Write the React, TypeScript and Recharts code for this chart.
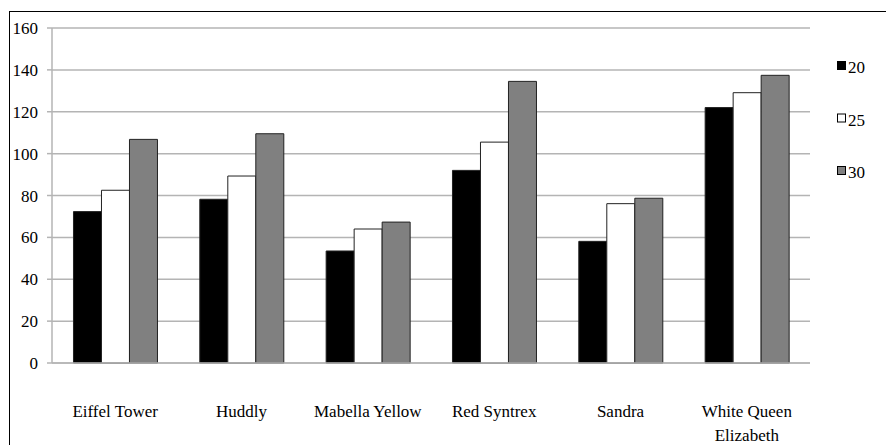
import { Bar, BarChart, CartesianGrid, XAxis, YAxis } from "recharts";

const categories = [
  "Eiffel Tower",
  "Huddly",
  "Mabella Yellow",
  "Red Syntrex",
  "Sandra",
  "White Queen Elizabeth",
];
const seriesNames = ["20", "25", "30"];
const values20 = [72.3, 78.2, 53.5, 92, 58.1, 122];
const values25 = [82.5, 89.3, 64, 105.5, 76.1, 129.1];
const values30 = [106.8, 109.5, 67.3, 134.5, 78.7, 137.4];
const yTicks = [0, 20, 40, 60, 80, 100, 120, 140, 160];

const seriesColors = ["#000000", "#ffffff", "#808080"];
const fontFamily = "'Liberation Serif', 'Times New Roman', serif";
const fontSize = 17;
const textStyle = { fontFamily, fontSize, fill: "#000" };

const data = categories.map((name, i) => ({
  name,
  s20: values20[i],
  s25: values25[i],
  s30: values30[i],
}));

let measureCtx: CanvasRenderingContext2D | null = null;
function textWidth(text: string) {
  if (!measureCtx) {
    measureCtx = document.createElement("canvas").getContext("2d");
  }
  if (!measureCtx) return text.length * fontSize * 0.5;
  measureCtx.font = `${fontSize}px ${fontFamily}`;
  return measureCtx.measureText(text).width;
}

function wrapLabel(label: string, maxWidth: number) {
  const words = label.split(" ");
  const lines: string[] = [];
  let current = "";
  for (const word of words) {
    const next = current ? `${current} ${word}` : word;
    if (current && textWidth(next) > maxWidth) {
      lines.push(current);
      current = word;
    } else {
      current = next;
    }
  }
  if (current) lines.push(current);
  return lines;
}

function CategoryTick(props: any) {
  const { x, y, payload } = props;
  const lines = wrapLabel(String(payload.value), 118);
  return (
    <text x={x} y={y + 45.5} textAnchor="middle" style={textStyle}>
      {lines.map((line, i) => (
        <tspan key={line} x={x} dy={i === 0 ? 0 : 24}>
          {line}
        </tspan>
      ))}
    </text>
  );
}

// legend drawn by hand so it doesn't eat plot width
function LegendBox() {
  return (
    <svg
      width={60}
      height={140}
      style={{ position: "absolute", left: 837, top: 61, overflow: "visible" }}
    >
      {seriesNames.map((name, i) => (
        <g key={name}>
          <rect
            x={0.5}
            y={0.5 + i * 52.5}
            width={8}
            height={8}
            fill={seriesColors[i]}
            stroke="#000"
            strokeWidth={1}
          />
          <text x={11} y={12 + i * 52.5} style={textStyle}>
            {name}
          </text>
        </g>
      ))}
    </svg>
  );
}

export default function App() {
  return (
    <div
      style={{
        position: "fixed",
        left: 0,
        top: 0,
        width: 886,
        height: 445,
        overflow: "hidden",
        background: "#fff",
        fontFamily,
      }}
    >
      <div
        style={{
          position: "absolute",
          left: 9,
          top: 11,
          width: 1000,
          height: 1000,
          border: "1px solid #000",
          boxSizing: "border-box",
        }}
      />
      <BarChart
        width={886}
        height={445}
        data={data}
        margin={{ top: 28, right: 76, left: 8, bottom: 0 }}
        barCategoryGap="17%"
        barGap={0}
        style={{ position: "absolute", left: 0, top: 0 }}
      >
        <CartesianGrid vertical={false} stroke="#b4b4b4" strokeWidth={1.5} />
        <XAxis
          dataKey="name"
          height={82}
          axisLine={{ stroke: "#b4b4b4", strokeWidth: 1.5 }}
          tickLine={false}
          interval={0}
          tick={<CategoryTick />}
        />
        <YAxis
          width={44}
          domain={[0, 160]}
          ticks={yTicks}
          interval={0}
          tickSize={5}
          tickMargin={9}
          axisLine={{ stroke: "#b4b4b4", strokeWidth: 1.5 }}
          tickLine={{ stroke: "#b4b4b4", strokeWidth: 1.5 }}
          tick={{ fill: "#000", fontSize, style: { fontFamily } }}
        />
        <Bar dataKey="s20" name={seriesNames[0]} fill={seriesColors[0]} stroke="#222" strokeWidth={1} isAnimationActive={false} />
        <Bar dataKey="s25" name={seriesNames[1]} fill={seriesColors[1]} stroke="#222" strokeWidth={1} isAnimationActive={false} />
        <Bar dataKey="s30" name={seriesNames[2]} fill={seriesColors[2]} stroke="#222" strokeWidth={1} isAnimationActive={false} />
      </BarChart>
      <LegendBox />
    </div>
  );
}
